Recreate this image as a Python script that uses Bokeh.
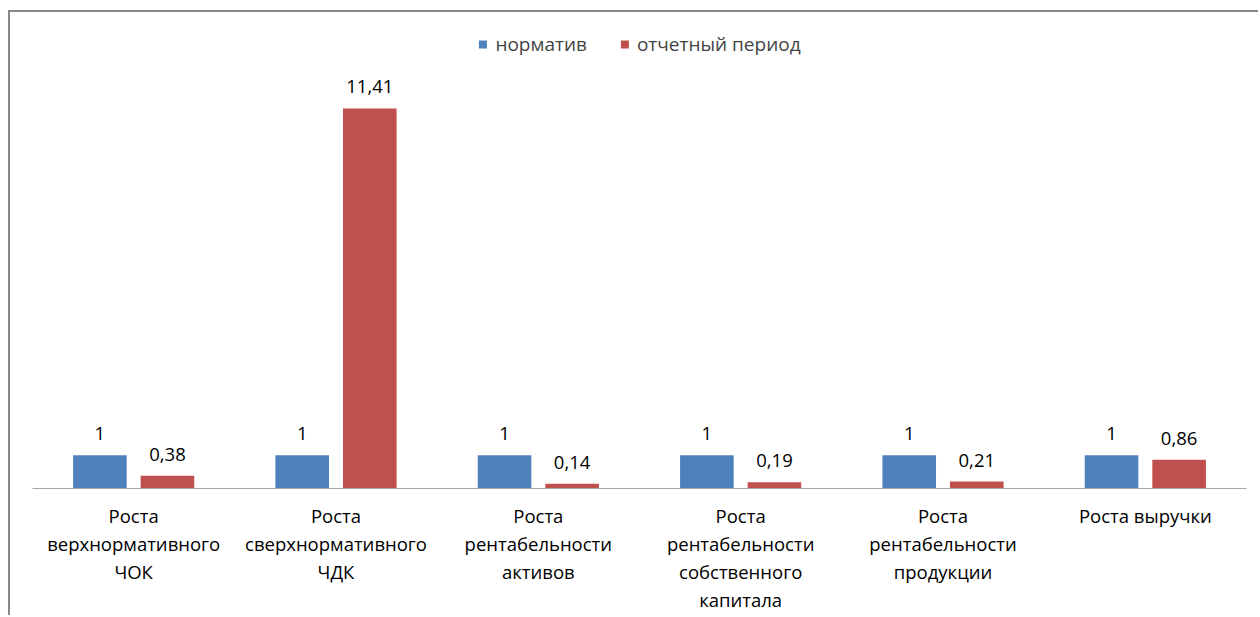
import json
from bokeh.plotting import figure
from bokeh.models import (ColumnDataSource, FactorRange, Range1d, Legend, LegendItem,
                          CategoricalAxis, CustomJSTickFormatter)
from bokeh.transform import dodge
from bokeh.core.properties import value
from bokeh.embed import file_html
from bokeh.resources import INLINE

categories = [
    "Роста верхнормативного ЧОК",
    "Роста сверхнормативного ЧДК",
    "Роста рентабельности активов",
    "Роста рентабельности собственного капитала",
    "Роста рентабельности продукции",
    "Роста выручки",
]
tick_labels = [
    "Роста\nверхнормативного\nЧОК",
    "Роста\nсверхнормативного\nЧДК",
    "Роста\nрентабельности\nактивов",
    "Роста\nрентабельности\nсобственного\nкапитала",
    "Роста\nрентабельности\nпродукции",
    "Роста выручки",
]
series_names = ["норматив", "отчетный период"]
norm_values = [1, 1, 1, 1, 1, 1]
actual_values = [0.38, 11.41, 0.14, 0.19, 0.21, 0.86]


def fmt(v):
    return ("%g" % v).replace(".", ",")


source = ColumnDataSource(dict(
    cat=categories,
    norm=norm_values,
    actual=actual_values,
    norm_lbl=[fmt(v) for v in norm_values],
    actual_lbl=[fmt(v) for v in actual_values],
))

FONT = "Open Sans"
FS = "18.5px"

p = figure(
    x_range=FactorRange(*categories, range_padding=0),
    y_range=Range1d(0, 13.75),
    width=1250, height=605,
    output_backend="svg", toolbar_location=None,
    min_border_left=22, min_border_right=14,
    min_border_top=18, min_border_bottom=129,
)
p.styles = {"border-top": "2px solid #878787", "border-left": "2px solid #878787",
            "margin-top": "10px", "margin-left": "8px"}
p.outline_line_color = None
p.xgrid.visible = False
p.ygrid.visible = False
p.yaxis.visible = False

blue = "#4F81BD"
red = "#C0504D"
off = 0.167
bw = 0.265

r1 = p.vbar(x=dodge("cat", -off, range=p.x_range), top="norm", width=bw,
            source=source, fill_color=blue, line_color=None)
r2 = p.vbar(x=dodge("cat", off, range=p.x_range), top="actual", width=bw,
            source=source, fill_color=red, line_color=None)

p.text(x=dodge("cat", -off, range=p.x_range), y="norm", text="norm_lbl",
       source=source, text_align="center", text_baseline="bottom",
       y_offset=-15, text_font=value(FONT), text_font_size=FS, text_color="#000000")
p.text(x=dodge("cat", off, range=p.x_range), y="actual", text="actual_lbl",
       source=source, text_align="center", text_baseline="bottom",
       y_offset=-15, text_font=value(FONT), text_font_size=FS, text_color="#000000")

# wrapped category labels: one stacked axis per text line
split = [lbl.split("\n") for lbl in tick_labels]
n_lines = max(len(s) for s in split)


def line_formatter(i):
    mapping = {c: (s[i] if len(s) > i else " ") for c, s in zip(categories, split)}
    return CustomJSTickFormatter(
        code="const m = %s; const v = m[tick]; return (v === undefined) ? ' ' : v;"
             % json.dumps(mapping, ensure_ascii=False))


def style_axis(a, standoff):
    a.major_tick_line_color = None
    a.minor_tick_line_color = None
    a.major_tick_out = 0
    a.major_tick_in = 0
    a.major_label_standoff = standoff
    a.major_label_text_font = FONT
    a.major_label_text_font_size = FS
    a.major_label_text_color = "#000000"


ax = p.xaxis[0]
ax.axis_line_color = "#a6a6a6"
ax.axis_line_width = 1
style_axis(ax, 14)
ax.formatter = line_formatter(0)

for i in range(1, n_lines):
    a = CategoricalAxis(formatter=line_formatter(i))
    a.axis_line_color = None
    style_axis(a, 0)
    p.add_layout(a, "below")

legend = Legend(items=[LegendItem(label=series_names[0], renderers=[r1]),
                       LegendItem(label=series_names[1], renderers=[r2])],
                orientation="horizontal", location="top_center")
legend.border_line_color = None
legend.background_fill_alpha = 0
legend.label_text_font = FONT
legend.label_text_font_size = "19px"
legend.glyph_width = 10
legend.glyph_height = 10
legend.label_standoff = 8
legend.spacing = 32
legend.padding = 0
legend.margin = 1
p.add_layout(legend, "center")

open("out.html", "w").write(file_html(p, INLINE))
